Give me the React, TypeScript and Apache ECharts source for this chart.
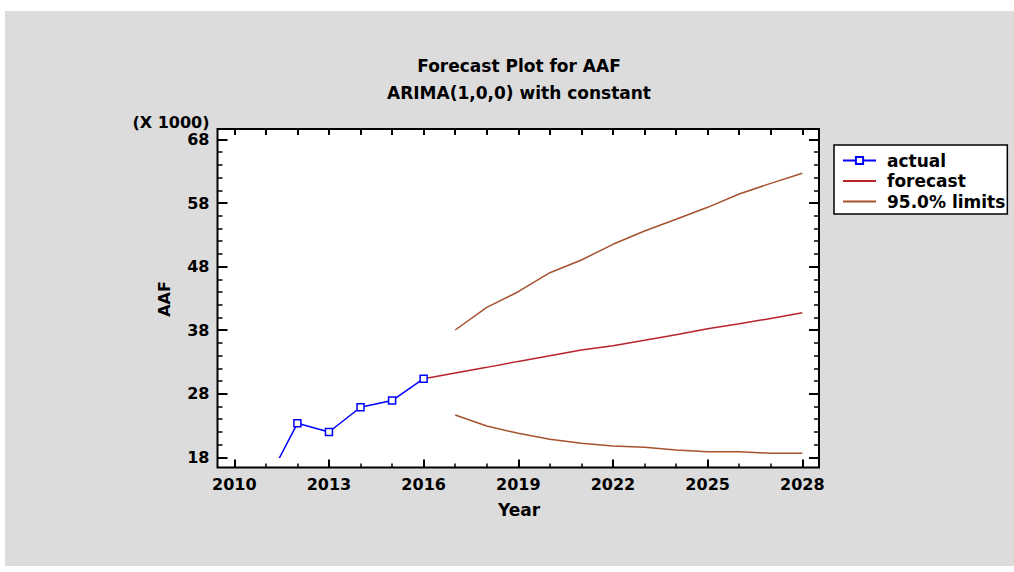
import React, { useEffect, useRef } from "react";
import * as echarts from "echarts";

// values in thousands (axis shows "(X 1000)")
const actualYears = [2011, 2012, 2013, 2014, 2015, 2016];
const actualValues = [13.8, 23.35, 21.98, 25.87, 26.92, 30.37];

const forecastYears = [2016, 2017, 2018, 2019, 2020, 2021, 2022, 2023, 2024, 2025, 2026, 2027, 2028];
const forecastValues = [30.37, 31.25, 32.15, 33.09, 33.97, 34.87, 35.55, 36.4, 37.28, 38.22, 39.0, 39.85, 40.73];

const limitYears = [2017, 2018, 2019, 2020, 2021, 2022, 2023, 2024, 2025, 2026, 2027, 2028];
const upperValues = [38.03, 41.6, 44.05, 47.04, 49.04, 51.51, 53.6, 55.45, 57.33, 59.43, 61.1, 62.68];
const lowerValues = [24.65, 22.92, 21.77, 20.83, 20.2, 19.78, 19.57, 19.15, 18.88, 18.88, 18.63, 18.63];

const xMin = 2010;
const xMax = 2028;
const xStep = 3;
const yMin = 18;
const yMax = 68;
const yStep = 10;

const titleLines = ["Forecast Plot for AAF", "ARIMA(1,0,0) with constant"];
const legendNames = ["actual", "forecast", "95.0% limits"];

const zip = (xs: number[], ys: number[]) => xs.map((x, i) => [x, ys[i]]);

export default function App() {
  const ref = useRef<HTMLDivElement>(null);
  useEffect(() => {
    const chart = echarts.init(ref.current!, null, { renderer: "svg" });
    const font = "DejaVu Sans";
    const black = "#000";
    const frame = { x: 217.5, y: 129, w: 601.5, h: 338.5 };
    chart.setOption({
      animation: false,
      graphic: [
        {
          type: "rect",
          z: -20,
          shape: { x: 5, y: 11, width: 1009, height: 555 },
          style: { fill: "#dcdcdc" },
          silent: true,
        },
        {
          type: "rect",
          z: -10,
          shape: { x: frame.x, y: frame.y, width: frame.w, height: frame.h },
          style: { fill: "#fff", stroke: black, lineWidth: 2 },
          silent: true,
        },
        {
          type: "text",
          x: 519,
          y: 65.5,
          style: { text: titleLines[0], font: `bold 17px "${font}"`, fill: black, align: "center", verticalAlign: "middle" },
        },
        {
          type: "text",
          x: 519,
          y: 93,
          style: { text: titleLines[1], font: `bold 17px "${font}"`, fill: black, align: "center", verticalAlign: "middle" },
        },
        {
          type: "text",
          x: 209.5,
          y: 122.5,
          style: { text: "(X 1000)", font: `bold 16px "${font}"`, fill: black, align: "right", verticalAlign: "middle" },
        },
        {
          type: "text",
          x: 164,
          y: 299,
          rotation: Math.PI / 2,
          style: { text: "AAF", font: `bold 16px "${font}"`, fill: black, align: "center", verticalAlign: "middle" },
        },
        {
          type: "text",
          x: 519,
          y: 510,
          style: { text: "Year", font: `bold 17px "${font}"`, fill: black, align: "center", verticalAlign: "middle" },
        },
      ],
      grid: { left: 234.3, top: 139.5, right: 1014 - 802.3, bottom: 572 - 457.3, containLabel: false },
      xAxis: [
        {
          type: "value",
          position: "bottom",
          min: xMin,
          max: xMax,
          interval: xStep,
          offset: 10.2,
          axisLine: { show: false },
          axisTick: { inside: true, length: 8, lineStyle: { color: black, width: 2 } },
          minorTick: { show: true, splitNumber: 3, length: 4, lineStyle: { color: black, width: 1.5 } },
          splitLine: { show: false },
          minorSplitLine: { show: false },
          axisLabel: {
            margin: 9,
            color: black,
            fontFamily: font,
            fontWeight: "bold",
            fontSize: 16,
            formatter: (v: number) => String(v),
          },
        },
        {
          type: "value",
          position: "top",
          min: xMin,
          max: xMax,
          interval: 1,
          offset: 10.5,
          axisLine: { show: false },
          axisTick: { inside: true, length: 6, lineStyle: { color: black, width: 2 } },
          splitLine: { show: false },
          axisLabel: { show: false },
        },
      ],
      yAxis: [
        {
          type: "value",
          position: "left",
          min: yMin,
          max: yMax,
          interval: yStep,
          offset: 16.8,
          axisLine: { show: false },
          axisTick: { inside: true, length: 10, lineStyle: { color: black, width: 2 } },
          minorTick: { show: true, splitNumber: 5, length: 5, lineStyle: { color: black, width: 1.5 } },
          splitLine: { show: false },
          minorSplitLine: { show: false },
          axisLabel: {
            margin: 8,
            color: black,
            fontFamily: font,
            fontWeight: "bold",
            fontSize: 16,
            formatter: (v: number) => String(v),
          },
        },
        {
          type: "value",
          position: "right",
          min: yMin,
          max: yMax,
          interval: yStep,
          offset: 16.7,
          axisLine: { show: false },
          axisTick: { inside: true, length: 10, lineStyle: { color: black, width: 2 } },
          minorTick: { show: true, splitNumber: 5, length: 5, lineStyle: { color: black, width: 1.5 } },
          splitLine: { show: false },
          minorSplitLine: { show: false },
          axisLabel: { show: false },
        },
      ],
      legend: {
        orient: "vertical",
        left: 834,
        top: 145,
        padding: [7, 2, 4, 8],
        backgroundColor: "#fff",
        borderColor: black,
        borderWidth: 1.5,
        itemWidth: 33,
        itemHeight: 9,
        itemGap: 3.5,
        selectedMode: false,
        data: [
          { name: legendNames[0] },
          { name: legendNames[1], itemStyle: { opacity: 0 } },
          { name: legendNames[2], itemStyle: { opacity: 0 } },
        ],
        textStyle: {
          fontFamily: font,
          fontWeight: "bold",
          fontSize: 17,
          lineHeight: 17,
          color: black,
          padding: [0, 0, 0, 6],
        },
      },
      series: [
        {
          name: legendNames[0],
          type: "line",
          data: zip(actualYears, actualValues),
          clip: true,
          symbol: "rect",
          symbolSize: 7,
          showAllSymbol: true,
          lineStyle: { color: "#0000ff", width: 1.5 },
          itemStyle: { color: "#ffffff", borderColor: "#0000ff", borderWidth: 1.5 },
          z: 5,
        },
        {
          name: legendNames[1],
          type: "line",
          data: zip(forecastYears, forecastValues),
          clip: true,
          symbol: "none",
          lineStyle: { color: "#b8232a", width: 1.5 },
          itemStyle: { color: "#b8232a" },
          z: 4,
        },
        {
          name: legendNames[2],
          type: "line",
          data: zip(limitYears, upperValues),
          clip: true,
          symbol: "none",
          lineStyle: { color: "#a5522d", width: 1.5 },
          itemStyle: { color: "#a5522d" },
          z: 3,
        },
        {
          name: legendNames[2],
          type: "line",
          data: zip(limitYears, lowerValues),
          clip: true,
          symbol: "none",
          lineStyle: { color: "#a5522d", width: 1.5 },
          itemStyle: { color: "#a5522d" },
          z: 3,
        },
      ],
    });
    return () => chart.dispose();
  }, []);
  return <div ref={ref} style={{ position: "absolute", left: 0, top: 0, width: 1014, height: 572 }} />;
}
